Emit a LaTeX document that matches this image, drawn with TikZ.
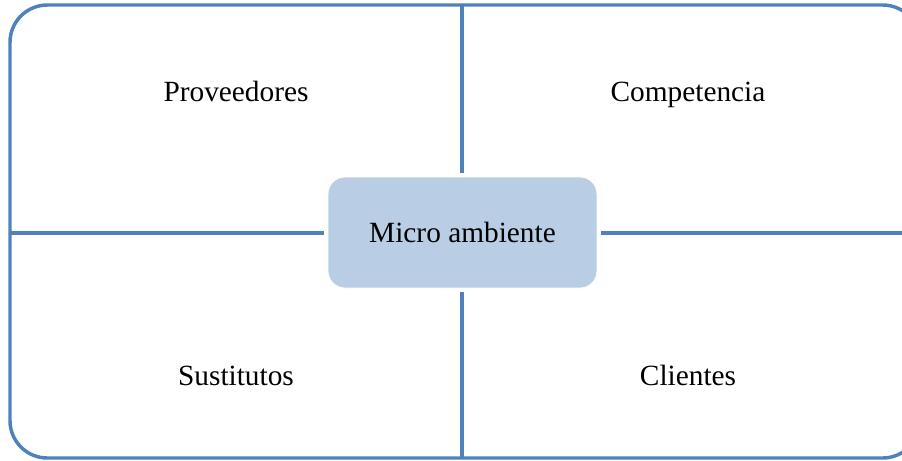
\documentclass[tikz,border=0pt]{standalone}
\usepackage{fontspec}
\setmainfont{Liberation Serif}
\definecolor{frameblue}{HTML}{4F81BD}
\definecolor{boxfill}{HTML}{B9CDE5}
\begin{document}
\begin{tikzpicture}[x=0.75pt,y=-0.75pt,
  frameline/.style={draw=frameblue,line width=2.6pt},
  quadlabel/.style={font=\fontsize{22}{26}\selectfont,text=black,anchor=base,inner sep=0pt},
  centerbox/.style={fill=boxfill,draw=white,line width=0.6pt,rounded corners=12.75pt,
    minimum width=269*0.75pt,minimum height=111*0.75pt,inner sep=0pt,
    font=\fontsize{22}{26}\selectfont}]
  \useasboundingbox (0,0) rectangle (902,460);
  \clip (0,0) rectangle (902,460);
  % outer frame
  \draw[frameline,rounded corners=28pt] (10,5) rectangle (920,458);
  % central node
  \node[centerbox] (c) at (462.5,232.5) {Micro ambiente};
  % frame anchors for the dividing lines
  \coordinate (top) at (462,5);
  \coordinate (bottom) at (462,458);
  \coordinate (left) at (10,233);
  \coordinate (right) at (910,233);
  \draw[frameline,shorten >=3pt] (top) -- (top |- c.north);
  \draw[frameline,shorten >=3pt] (bottom) -- (bottom |- c.south);
  \draw[frameline,shorten >=3pt] (left) -- (c.west |- left);
  \draw[frameline,shorten >=3pt] (right) -- (c.east |- right);
  % quadrant labels, set on a common baseline per row
  \node[quadlabel] (prov) at (236,101) {Proveedores};
  \node[quadlabel] (comp) at (688,101) {Competencia};
  \node[quadlabel] (sust) at (236,385) {Sustitutos};
  \node[quadlabel] (cli) at (688,385) {Clientes};
\end{tikzpicture}
\end{document}
